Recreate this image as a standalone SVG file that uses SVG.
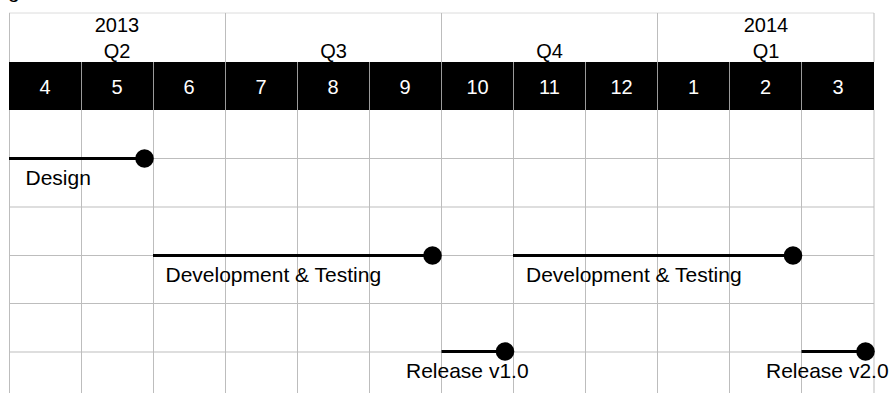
<svg xmlns="http://www.w3.org/2000/svg" width="889" height="393" viewBox="0 0 889 393">
  <style>
    text { font-family: "Liberation Sans", Arial, Helvetica, sans-serif; }
    .hdr { font-size: 20px; fill: #000; text-anchor: middle; }
    .mon { font-size: 20px; fill: #fff; text-anchor: middle; }
    .lbl { font-size: 21px; fill: #000; }
    .grid { stroke: #bdbdbd; stroke-width: 1; fill: none; }
    .top { stroke: #dcdcdc; stroke-width: 1; fill: none; }
    .band { stroke: #9a9a9a; stroke-width: 1; }
    .bar { stroke: #000; stroke-width: 3; fill: none; }
    .dot { fill: #000; }
  </style>
  <rect width="889" height="393" fill="#fff"/>

  <!-- descender of a heading set above the chart -->
  <text class="lbl" x="8" y="-2">g</text>

  <!-- timeline header: years and quarters -->
  <g id="header">
    <line class="top" x1="9" y1="13" x2="874" y2="13"/>
    <path class="grid" d="M9.5 13V62M225.5 13V62M441.5 13V62M657.5 13V62M874 13V62"/>
    <text class="hdr" x="117" y="32">2013</text>
    <text class="hdr" x="117" y="58">Q2</text>
    <text class="hdr" x="333.5" y="58">Q3</text>
    <text class="hdr" x="549.5" y="58">Q4</text>
    <text class="hdr" x="766" y="32">2014</text>
    <text class="hdr" x="766" y="58">Q1</text>
  </g>

  <!-- month band -->
  <g id="months">
    <rect x="9" y="62" width="865" height="48" fill="#000"/>
    <path class="band" d="M81.5 62V110M153.5 62V110M225.5 62V110M297.5 62V110M369.5 62V110M441.5 62V110M513.5 62V110M585.5 62V110M657.5 62V110M729.5 62V110M801.5 62V110"/>
    <text class="mon" x="45" y="94">4</text>
    <text class="mon" x="117" y="94">5</text>
    <text class="mon" x="189" y="94">6</text>
    <text class="mon" x="261" y="94">7</text>
    <text class="mon" x="333" y="94">8</text>
    <text class="mon" x="405" y="94">9</text>
    <text class="mon" x="477.5" y="94">10</text>
    <text class="mon" x="549.5" y="94">11</text>
    <text class="mon" x="621.5" y="94">12</text>
    <text class="mon" x="693.5" y="94">1</text>
    <text class="mon" x="765.5" y="94">2</text>
    <text class="mon" x="838" y="94">3</text>
  </g>

  <!-- chart grid -->
  <g id="grid">
    <path class="grid" d="M9.5 110V393M81.5 110V393M153.5 110V393M225.5 110V393M297.5 110V393M369.5 110V393M441.5 110V393M513.5 110V393M585.5 110V393M657.5 110V393M729.5 110V393M801.5 110V393M874 110V393"/>
    <path class="grid" d="M9 158.5H874M9 207H874M9 255.5H874M9 303.5H874M9 352H874"/>
  </g>

  <!-- task bars -->
  <g id="connectors">
    <line class="bar" x1="9" y1="158.5" x2="144" y2="158.5"/>
    <line class="bar" x1="153" y1="255.5" x2="432" y2="255.5"/>
    <line class="bar" x1="513" y1="255.5" x2="793" y2="255.5"/>
    <line class="bar" x1="441.5" y1="351.5" x2="505" y2="351.5"/>
    <line class="bar" x1="801.5" y1="351.5" x2="865.5" y2="351.5"/>
  </g>

  <g id="design">
    <circle class="dot" cx="144.5" cy="158.5" r="9.3"/>
    <text class="lbl" x="25.5" y="185">Design</text>
  </g>
  <g id="dev1">
    <circle class="dot" cx="432.5" cy="255.5" r="9.3"/>
    <text class="lbl" x="165.5" y="282">Development &amp; Testing</text>
  </g>
  <g id="dev2">
    <circle class="dot" cx="793" cy="255.5" r="9.3"/>
    <text class="lbl" x="526" y="282">Development &amp; Testing</text>
  </g>
  <g id="release1">
    <circle class="dot" cx="505" cy="351.5" r="9.3"/>
    <text class="lbl" x="406" y="378">Release v1.0</text>
  </g>
  <g id="release2">
    <circle class="dot" cx="865.5" cy="351.5" r="9.3"/>
    <text class="lbl" x="766" y="378">Release v2.0</text>
  </g>
</svg>
